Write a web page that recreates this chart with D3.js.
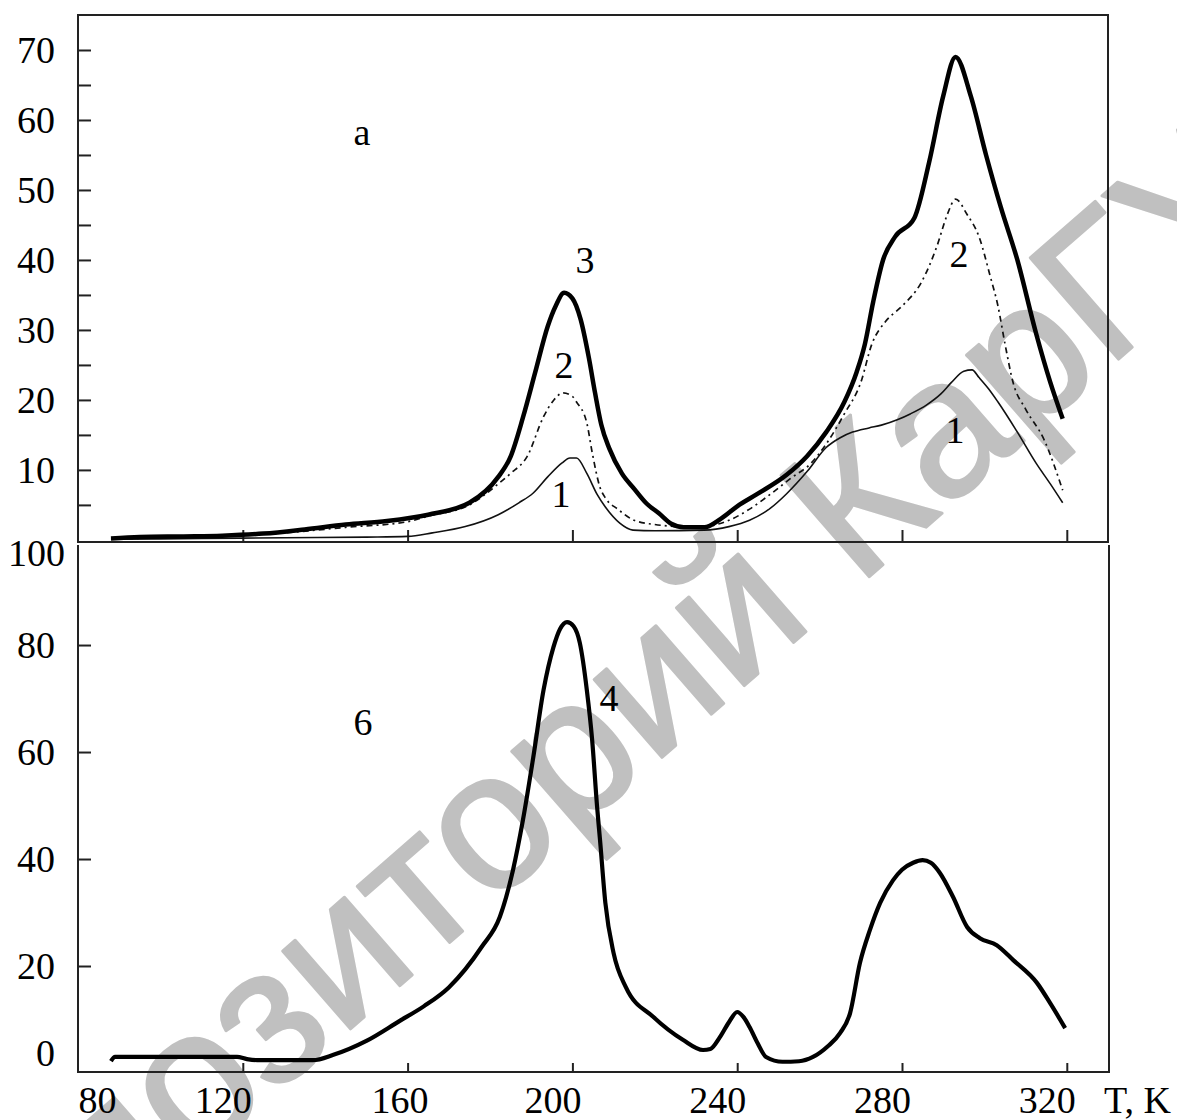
<!DOCTYPE html>
<html><head><meta charset="utf-8">
<script src="https://cdn.jsdelivr.net/npm/d3@7"></script>
<style>body{margin:0;background:#fff}svg text{font-family:"Liberation Serif","Times New Roman",serif}</style>
</head><body><svg id="c" width="1177" height="1120"></svg>
<script>
// ---- data ----
const xTicks = [80,120,160,200,240,280,320];
const topYMajor = [10,20,30,40,50,60,70];
const topYMinor = [5,15,25,35,45,55,65];
const botYTicks = [0,20,40,60,80,100];

const T1 = [88,110,130,150,160,166,174,182,187,190.5,194,197.5,199.4,201,203.5,206,208,211.5,214.7,220,232,238,243,248,252,257,261.6,265,268,272,275,279,282,286,289.5,292,295,297,298.7,301,303.3,308,312.5,316,319];
const v1 = [0.1,0.2,0.3,0.4,0.5,1.0,1.9,3.6,5.3,6.7,9.0,11.0,11.7,11.7,9.5,6.5,4.7,2.4,1.4,1.3,1.4,1.9,2.8,4.5,6.6,9.8,13.2,14.6,15.4,16.0,16.4,17.2,18.0,19.3,20.9,22.5,24.1,24.3,23.2,21.6,19.7,15.4,11,8,5.3];

const T2 = [88,100,115,130,145,160,165,175,182,185,189,193,195.5,197.7,200,201,203.5,204.8,206.7,208,211,215,220,230,238,243,248,253,258,261.6,266,270,272.7,276,280,284.6,288.5,291,293,295.8,298.7,301.4,303.3,305,307,310,314.5,319];
const v2 = [0.1,0.3,0.5,1.0,1.8,2.6,3.4,5.0,8.0,9.5,11.9,17.6,20,21,20.5,19.7,16.7,12.5,7.5,6,4.4,2.8,2.2,1.8,2.8,4.4,6.5,8.8,11,13.7,18,22.5,28,31.2,33.4,36.7,42,46.5,48.7,46.5,43.3,37.7,33.4,28,22.4,18.7,14.3,7.1];

const T3 = [88,95,105,115,125,135,145,155,165,175,182,185,188,191,194,196,198,200,202,204,205.5,207,209,212,215,218,221,224,227,232,236,240,245,252,257,261.6,266,269,271,273,275.4,278.3,283,286.6,290,293,296.7,300.4,304,308,312.5,316,319];
const v3 = [0.2,0.4,0.5,0.6,0.9,1.5,2.2,2.7,3.6,5.3,9,11.9,17.5,24,30.5,33.5,35.3,34.5,31.5,26,21,16.5,13,9.5,7.3,5.2,3.8,2.3,1.8,1.8,3.0,4.8,6.6,9.3,12,15.4,19.7,24,28,34,40,43.3,46,54,63.4,69,63.4,55,47.5,40,29.6,22.5,17.3];

const T4 = [88,89,100,110,118.6,121,123.5,130,137,142,150,158,164,170,178,182.4,185.6,188,190.5,193,195.4,197,198.7,200.3,201.8,203.5,204.8,206,206.7,208,210,213,219.6,226.8,231.7,233.5,235.8,238,240,241.5,243,245,247,251,255,258.4,262,265,267.4,269.8,272.2,274.7,277.8,280,282.7,285,287,289.2,292.4,295.8,298.9,303,307,312.8,316,319.6];
const v4 = [2.2,3.0,3.0,3.0,3.0,2.6,2.4,2.4,2.4,3.4,6,9.7,12.5,16,23.6,29.2,38,47.3,59,71.6,79.6,83,84.3,83.5,80.4,71.6,62.2,49.7,43.6,31.8,22.4,16,10.5,6.2,4.3,4.5,6.7,9.5,11.4,10.5,8.6,5.5,3,2.1,2.2,3,5,7.5,11.2,20.6,26.7,31.8,36,38,39.3,39.8,39.3,37.4,32.9,27.3,25.2,23.9,21.1,16.8,13,8.4];

const watermark = "Репозиторий КарГУ";

// ---- drawing ----
const svg = d3.select("#c");
const fs = 38;

// watermark (behind), fitted so that several of its letters land where the reference shows them
const wm = svg.append("text").text(watermark)
  .style("font-family","'Liberation Sans',Arial,sans-serif")
  .style("font-size","100px").attr("fill","#c0c0c0")
  .attr("stroke","#c0c0c0").attr("stroke-width",1.5).attr("stroke-linejoin","round");
(function placeWatermark(){
  const n = wm.node();
  const ctr = i => { const e = n.getExtentOfChar(i); return e.x + e.width/2; };
  const st = i => n.getExtentOfChar(i).x;
  const src = [[ctr(4),-26],[ctr(10),-68],[ctr(12),-36],[st(15)+8,-72]];
  const dst = [[265,1025],[703,573],[858,490],[1015,250]];
  const m = a => [d3.mean(a,p=>p[0]), d3.mean(a,p=>p[1])];
  const ps = m(src), qs = m(dst);
  let a=0,b=0,nn=0;
  src.forEach((p,i)=>{
    const px=p[0]-ps[0], py=p[1]-ps[1], qx=dst[i][0]-qs[0], qy=dst[i][1]-qs[1];
    a += px*qx+py*qy; b += px*qy-py*qx; nn += px*px+py*py;
  });
  const c=a/nn, s=b/nn;
  const tx = qs[0] - (c*ps[0] - s*ps[1]), ty = qs[1] - (s*ps[0] + c*ps[1]);
  wm.attr("transform",`matrix(${c},${s},${-s},${c},${tx},${ty})`);
})();

const x = d3.scaleLinear().domain([80,330]).range([78,1108]);
const yTop = d3.scaleLinear().domain([-0.3,75]).range([542,15]);
const yBot = d3.scaleLinear().domain([0,98.7]).range([1073,545]);

// frames
svg.append("rect").attr("x",78).attr("y",15).attr("width",1030).attr("height",527)
  .attr("fill","none").attr("stroke","#222").attr("stroke-width",2);
svg.append("path").attr("d","M78,545V1072H1109V545").attr("fill","none")
  .attr("stroke","#222").attr("stroke-width",2);

function styleAxis(g){
  g.select(".domain").remove();
  g.selectAll(".tick line").attr("stroke","#222").attr("stroke-width",2);
  g.selectAll("text").attr("fill","#000").style("font-size",fs+"px")
    .style("font-family","'Liberation Serif','Times New Roman',serif");
}

// top y axis
svg.append("g").attr("transform","translate(78,0)")
  .call(d3.axisLeft(yTop).tickValues(topYMajor).tickSize(-13).tickPadding(23).tickFormat(d3.format("d")))
  .call(styleAxis);
svg.append("g").attr("transform","translate(78,0)")
  .call(d3.axisLeft(yTop).tickValues(topYMinor).tickSize(-13).tickFormat(""))
  .call(styleAxis);
// top x ticks
svg.append("g").attr("transform","translate(0,542)")
  .call(d3.axisBottom(x).tickValues(xTicks.slice(1)).tickSize(-12).tickFormat(""))
  .call(styleAxis);

// bottom y axis
const gby = svg.append("g").attr("transform","translate(78,0)")
  .call(d3.axisLeft(yBot).tickValues(botYTicks).tickSize(-13).tickPadding(23).tickFormat(d3.format("d")))
  .call(styleAxis);
gby.selectAll(".tick").filter(d=>d===0||d===100).select("line").remove();
gby.selectAll(".tick").filter(d=>d===100).select("text").attr("dx",10).attr("dy","0.72em");
gby.selectAll(".tick").filter(d=>d===0).select("text").attr("dy","-0.2em");

// bottom x axis
const gbx = svg.append("g").attr("transform","translate(0,1072)")
  .call(d3.axisBottom(x).tickValues(xTicks).tickSize(-9).tickPadding(0).tickFormat(d3.format("d")))
  .call(styleAxis);
gbx.selectAll(".tick").filter(d=>d===80).select("line").remove();
gbx.selectAll(".tick text").attr("y",41).attr("dy",null)
  .attr("dx",d=> d===80 ? 19 : (d===160 ? -8 : -20));
svg.append("text").attr("x",1104).attr("y",1113).text("T, K").style("font-size",fs+"px");

// curves
const mk = (T,v)=> T.map((t,i)=>[t,v[i]]);
const lineTop = d3.line().x(d=>x(d[0])).y(d=>yTop(d[1])).curve(d3.curveMonotoneX);
const lineBot = d3.line().x(d=>x(d[0])).y(d=>yBot(d[1])).curve(d3.curveMonotoneX);

svg.append("path").attr("d",lineTop(mk(T1,v1))).attr("fill","none").attr("stroke","#111").attr("stroke-width",1.6);
svg.append("path").attr("d",lineTop(mk(T2,v2))).attr("fill","none").attr("stroke","#111").attr("stroke-width",1.7)
  .attr("stroke-dasharray","6,4,2,4");
svg.append("path").attr("d",lineTop(mk(T3,v3))).attr("fill","none").attr("stroke","#000").attr("stroke-width",4.5)
  .attr("stroke-linejoin","round");
svg.append("path").attr("d",lineBot(mk(T4,v4))).attr("fill","none").attr("stroke","#000").attr("stroke-width",4.2)
  .attr("stroke-linejoin","round");

// labels
const lab = (t,xx,yy)=> svg.append("text").attr("x",xx).attr("y",yy).attr("text-anchor","middle")
  .style("font-size",fs+"px").text(t);
lab("a",362,145);
lab("3",585,273);
lab("2",564,378);
lab("1",561,507);
lab("2",959,267);
lab("1",955,443);
lab("6",363,735);
lab("4",609,711);
</script></body></html>
